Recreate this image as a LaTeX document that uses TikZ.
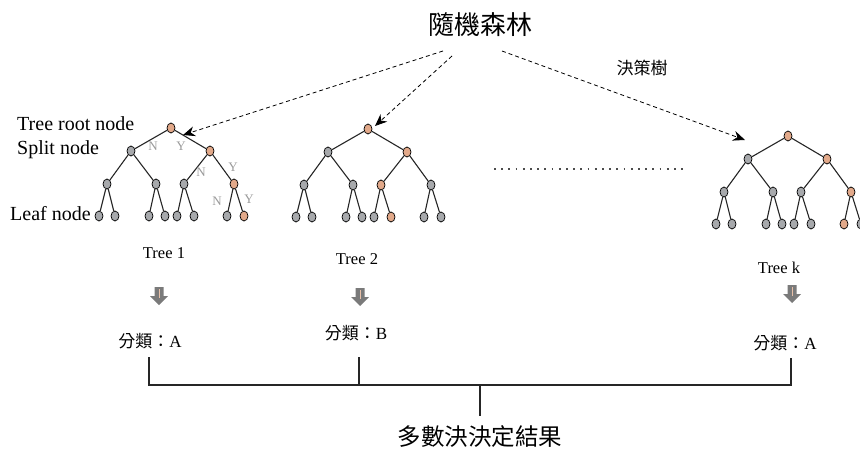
\documentclass[tikz,border=0pt]{standalone}
\usepackage{fontspec}
\setmainfont{Liberation Serif}
\newfontfamily\cjk{Noto Sans CJK TC}
\usetikzlibrary{shapes.geometric,arrows.meta}
\definecolor{nodegray}{HTML}{A7A9AC}
\definecolor{nodeorange}{HTML}{E2A98A}
\definecolor{labgray}{HTML}{9A9A9A}
\definecolor{arrgray}{HTML}{7A7A7A}
\definecolor{arrline}{HTML}{E8C0A8}
\tikzset{
  tn/.style={ellipse, draw=black, line width=0.7pt, minimum width=8pt, minimum height=10pt, inner sep=0pt},
  gnd/.style={tn, fill=nodegray},
  ond/.style={tn, fill=nodeorange},
  tedge/.style={line width=1.1pt, black!85},
  yn/.style={text=labgray, font=\fontsize{13}{13}\selectfont, inner sep=0pt},
  side/.style={font=\fontsize{20}{20}\selectfont, inner sep=0pt, anchor=west},
  treelab/.style={font=\fontsize{16.5}{16.5}\selectfont, inner sep=0pt},
  cls/.style={font=\fontsize{17}{17}\selectfont, inner sep=0pt},
  dasharr/.style={line width=0.8pt, dash pattern=on 4pt off 3pt, -{Stealth[length=12pt,width=10pt]}},
  dotline/.style={line width=1.8pt, black!70, dash pattern=on 1.8pt off 5.4pt},
  bracket/.style={line width=1.2pt, black!85},
}
\newcommand\rftree[4]{%
  \begin{scope}[shift={(#2,#3)}]
    \foreach \x/\y [count=\k] in {0/0,-40/23,39/23,-64/56,-15/56,13/56,63/56,-72/88,-56/88,-22/88,-6/88,6/88,23/88,56/88,73/88}
      \coordinate (p\k) at (\x,\y);
  \end{scope}
  \foreach \c [count=\k] in {#4}
    \node[\c] (#1\k) at (p\k) {};
  \foreach \a/\b in {1/2,1/3,2/4,2/5,3/6,3/7,4/8,4/9,5/10,5/11,6/12,6/13,7/14,7/15}
    \draw[tedge] (#1\a) -- (#1\b);
}
\newcommand\blockarr[2]{%
  \begin{scope}[shift={(#1,#2)}]
    \fill[arrgray] (-4.5,0) -- (4.5,0) -- (4.5,9) -- (9,9) -- (0,18) -- (-9,9) -- (-4.5,9) -- cycle;
    \draw[arrline, line width=1pt] (0,2) -- (0,11);
  \end{scope}
}
\begin{document}
\begin{tikzpicture}[x=1pt,y=-1pt]
\useasboundingbox (0,0) rectangle (860,452);

% title
\node[font=\cjk\fontsize{26}{26}\selectfont, inner sep=0pt] (title) at (480,25) {隨機森林};
\node[font=\cjk\fontsize{17}{17}\selectfont, inner sep=0pt] (dt) at (642,68) {決策樹};

% trees
\rftree{a}{171}{128}{ond,gnd,ond,gnd,gnd,gnd,ond,gnd,gnd,gnd,gnd,gnd,gnd,gnd,ond}
\rftree{b}{368}{129}{ond,gnd,ond,gnd,gnd,ond,gnd,gnd,gnd,gnd,gnd,gnd,ond,gnd,gnd}
\rftree{k}{788}{136}{ond,gnd,ond,gnd,gnd,gnd,ond,gnd,gnd,gnd,gnd,gnd,gnd,ond,gnd}

% side labels
\node[side] (lroot) at (17,124) {Tree root node};
\node[side] (lsplit) at (17,150) {Split node};
\node[side] (lleaf) at (10,214) {Leaf node};

% N / Y labels
\node[yn] (n1) at (153,146) {N};
\node[yn] (y1) at (181,146) {Y};
\node[yn] (n2) at (201,172) {N};
\node[yn] (y2) at (233,167) {Y};
\node[yn] (n3) at (217,201) {N};
\node[yn] (y3) at (249,199) {Y};

% dashed arrows
\coordinate (s1) at (443,51);
\coordinate (s2) at (452,56);
\coordinate (s3) at (502,51);
\coordinate (t1) at (183,135);
\coordinate (t2) at (375,126);
\coordinate (t3) at (745,140);
\draw[dasharr] (s1) -- (t1);
\draw[dasharr] (s2) -- (t2);
\draw[dasharr] (s3) -- (t3);

% dotted line
\coordinate (dl) at (494,169);
\coordinate (dr) at (688,169);
\draw[dotline] (dl) -- (dr);

% tree labels
\node[treelab] (tl1) at (164,253) {Tree 1};
\node[treelab] (tl2) at (357,259) {Tree 2};
\node[treelab] (tlk) at (779,268) {Tree k};

% block arrows
\blockarr{159}{287}
\blockarr{360}{288}
\blockarr{792}{285}

% classification labels
\node[cls] (c1) at (150,341) {{\cjk 分類：}A};
\node[cls] (c2) at (356,333) {{\cjk 分類：}B};
\node[cls] (ck) at (785,343) {{\cjk 分類：}A};

% bracket
\coordinate (v1) at (149,357);
\coordinate (v2) at (359,357);
\coordinate (vk) at (791,358);
\coordinate (h1) at (149,385);
\coordinate (h2) at (359,385);
\coordinate (hk) at (791,385);
\coordinate (hm) at (480,385);
\draw[bracket] (v1) -- (h1) -- (hk) -- (vk);
\draw[bracket] (v2) -- (h2);
\node[font=\cjk\fontsize{23.5}{23.5}\selectfont, inner sep=0pt] (res) at (480,437) {多數決決定結果};
\coordinate (rm) at (480,416);
\draw[bracket] (hm) -- (rm);
\end{tikzpicture}
\end{document}
